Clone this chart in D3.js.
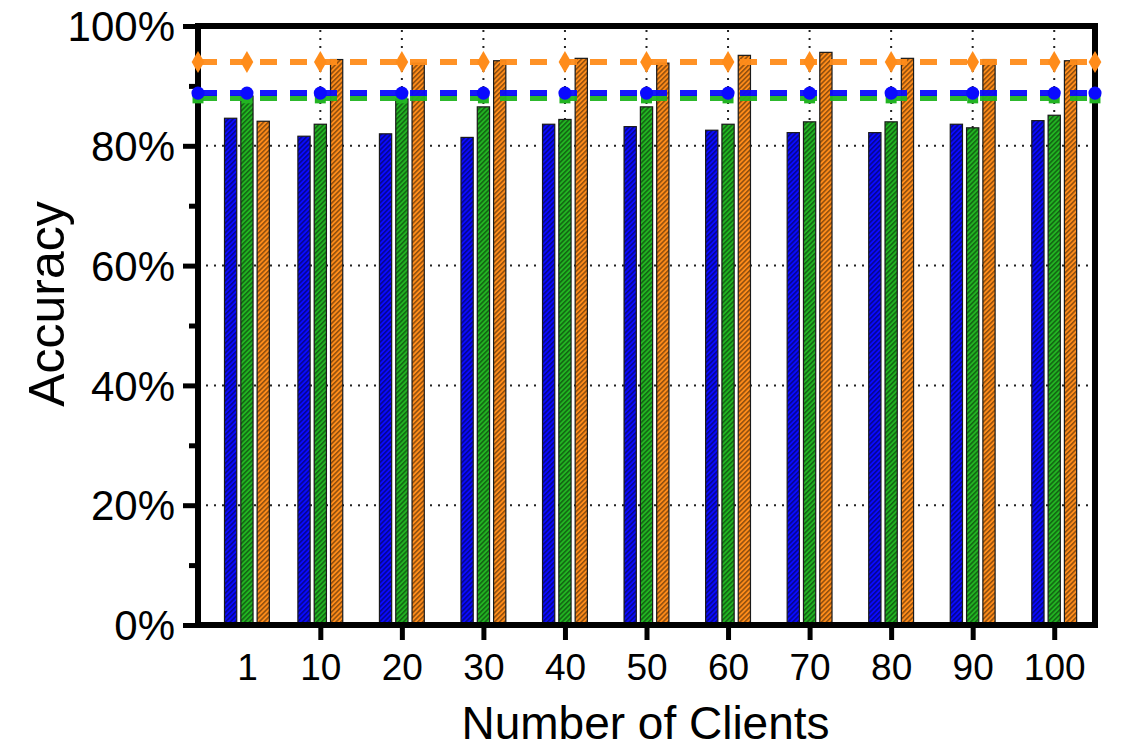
<!DOCTYPE html>
<html>
<head>
<meta charset="utf-8">
<script src="https://cdn.jsdelivr.net/npm/d3@7"></script>
<style>
  html, body { margin: 0; padding: 0; background: #fff; }
  svg { display: block; font-family: "Liberation Sans", Arial, Helvetica, sans-serif; }
</style>
</head>
<body>
<svg id="chart" width="1140" height="748"></svg>
<script>
// ---- data ----
const categories = [1, 10, 20, 30, 40, 50, 60, 70, 80, 90, 100];
const blueBars   = [84.6, 81.6, 82.0, 81.4, 83.6, 83.2, 82.6, 82.2, 82.2, 83.6, 84.2];
const greenBars  = [88.3, 83.6, 87.8, 86.5, 84.4, 86.5, 83.6, 84.0, 84.0, 83.0, 85.1];
const orangeBars = [84.1, 94.4, 93.8, 94.2, 94.6, 93.8, 95.1, 95.6, 94.6, 94.4, 94.2];

const lineX      = [-5, 1, 10, 20, 30, 40, 50, 60, 70, 80, 90, 100, 105];
const blueLine   = [88.8, 88.8, 88.8, 88.8, 88.8, 88.8, 88.8, 88.8, 88.8, 88.8, 88.8, 88.8, 88.8];
const greenLine  = [88.0, 88.0, 88.0, 88.0, 88.0, 88.0, 88.0, 88.0, 88.0, 88.0, 88.0, 88.0, 88.0];
const orangeLine = [94.0, 94.0, 94.0, 94.0, 94.0, 94.0, 94.0, 94.0, 94.0, 94.0, 94.0, 94.0, 94.0];

const yMajorTicks = [0, 20, 40, 60, 80, 100];
const yMinorTicks = [10, 30, 50, 70, 90];
const xGridTicks  = [10, 20, 30, 40, 50, 60, 70, 80, 90, 100];
const barOffsets  = [-2, 0, 2];

const colors = { blue: "#0a0aff", green: "#22b422", orange: "#ff8c1a" };

// ---- scales ----
const svg = d3.select("#chart");
const x = d3.scaleLinear().domain([-5, 105]).range([198, 1095]);
const y = d3.scaleLinear().domain([0, 100]).range([625, 26]);
const barW = x(1.5) - x(0);

// ---- hatch pattern ----
const defs = svg.append("defs");
const pat = defs.append("pattern")
  .attr("id", "hatch").attr("patternUnits", "userSpaceOnUse")
  .attr("width", 3.4).attr("height", 3.4)
  .attr("patternTransform", "rotate(45)");
pat.append("line").attr("x1", 0.8).attr("y1", 0).attr("x2", 0.8).attr("y2", 3.4)
  .attr("stroke", "rgba(0,0,0,0.62)").attr("stroke-width", 1.1);

// ---- gridlines ----
const grid = svg.append("g");
grid.selectAll("line.h").data([20, 40, 60, 80]).join("line")
  .attr("x1", x(-5)).attr("x2", x(105))
  .attr("y1", d => y(d)).attr("y2", d => y(d))
  .attr("stroke", "#222").attr("stroke-width", 2).attr("stroke-dasharray", "2,6");
grid.selectAll("line.v").data(xGridTicks).join("line")
  .attr("x1", d => x(d)).attr("x2", d => x(d))
  .attr("y1", y(100)).attr("y2", y(0))
  .attr("stroke", "#222").attr("stroke-width", 2).attr("stroke-dasharray", "2,6")
  .attr("stroke-dashoffset", -4);

// ---- bars ----
const barSeries = [
  { vals: blueBars, color: colors.blue },
  { vals: greenBars, color: colors.green },
  { vals: orangeBars, color: colors.orange }
];
const barsG = svg.append("g");
barSeries.forEach((s, si) => {
  const g = barsG.append("g");
  const data = categories.map((c, i) => ({ c, v: s.vals[i] }));
  g.selectAll("rect.f").data(data).join("rect")
    .attr("x", d => x(d.c + barOffsets[si]) - barW / 2)
    .attr("width", barW)
    .attr("y", d => y(d.v)).attr("height", d => y(0) - y(d.v))
    .attr("fill", s.color);
  g.selectAll("rect.h").data(data).join("rect")
    .attr("x", d => x(d.c + barOffsets[si]) - barW / 2)
    .attr("width", barW)
    .attr("y", d => y(d.v)).attr("height", d => y(0) - y(d.v))
    .attr("fill", "url(#hatch)").attr("stroke", "#1a1a1a").attr("stroke-width", 1.2);
});

// ---- axes ----
const yAxis = svg.append("g").attr("transform", `translate(${x(-5)},0)`)
  .call(d3.axisLeft(y).tickValues(yMajorTicks).tickSize(15).tickSizeOuter(0).tickPadding(8)
    .tickFormat(d => d + "%"));
yAxis.select(".domain").attr("stroke", "#000").attr("stroke-width", 6)
  .attr("d", `M0,${y(0) + 3}V${y(100) - 3}`);
yAxis.selectAll(".tick line").attr("stroke", "#000").attr("stroke-width", 5);
yAxis.selectAll(".tick text").attr("font-size", 42).attr("fill", "#000").attr("dy", "0.35em");

const yMinor = svg.append("g").attr("transform", `translate(${x(-5)},0)`)
  .call(d3.axisLeft(y).tickValues(yMinorTicks).tickSize(9).tickSizeOuter(0).tickFormat(""));
yMinor.select(".domain").remove();
yMinor.selectAll(".tick line").attr("stroke", "#000").attr("stroke-width", 5);

const xAxis = svg.append("g").attr("transform", `translate(0,${y(0)})`)
  .call(d3.axisBottom(x).tickValues(categories).tickSize(15).tickSizeOuter(0).tickPadding(14)
    .tickFormat(d => d));
xAxis.select(".domain").attr("stroke", "#000").attr("stroke-width", 6)
  .attr("d", `M${x(-5) - 3},0H${x(105) + 3}`);
xAxis.selectAll(".tick line").attr("stroke", "#000").attr("stroke-width", 5)
  .filter(d => d === 1).remove();
xAxis.selectAll(".tick text").attr("font-size", 37).attr("fill", "#000");

// frame top/right
svg.append("path")
  .attr("d", `M${x(-5)},${y(100)}H${x(105)}V${y(0)}`)
  .attr("fill", "none").attr("stroke", "#000").attr("stroke-width", 6)
  .attr("stroke-linecap", "square");

// ---- reference lines ----
const lineGen = d3.line().x(d => x(d.x)).y(d => y(d.v));
function drawLine(vals, color, shape, size) {
  const data = lineX.map((lx, i) => ({ x: lx, v: vals[i] }));
  const g = svg.append("g");
  g.append("path").datum(data).attr("d", lineGen)
    .attr("fill", "none").attr("stroke", color).attr("stroke-width", 6)
    .attr("stroke-dasharray", "17,13").attr("stroke-dashoffset", -2).attr("opacity", 0.95);
  g.selectAll("path.m").data(data).join("path")
    .attr("transform", d => `translate(${x(d.x)},${y(d.v)})`)
    .attr("d", d3.symbol().type(shape).size(size))
    .attr("fill", color);
}
drawLine(greenLine, colors.green, d3.symbolSquare, 120);
drawLine(blueLine, colors.blue, d3.symbolCircle, 135);
drawLine(orangeLine, colors.orange, d3.symbolDiamond, 140);

// ---- axis titles ----
svg.append("text").attr("x", x(50) - 1).attr("y", 739).attr("text-anchor", "middle")
  .attr("font-size", 46).attr("fill", "#000").text("Number of Clients");
svg.append("text").attr("transform", "translate(64,304) rotate(-90)").attr("text-anchor", "middle")
  .attr("font-size", 50).attr("fill", "#000").text("Accuracy");
</script>
</body>
</html>
